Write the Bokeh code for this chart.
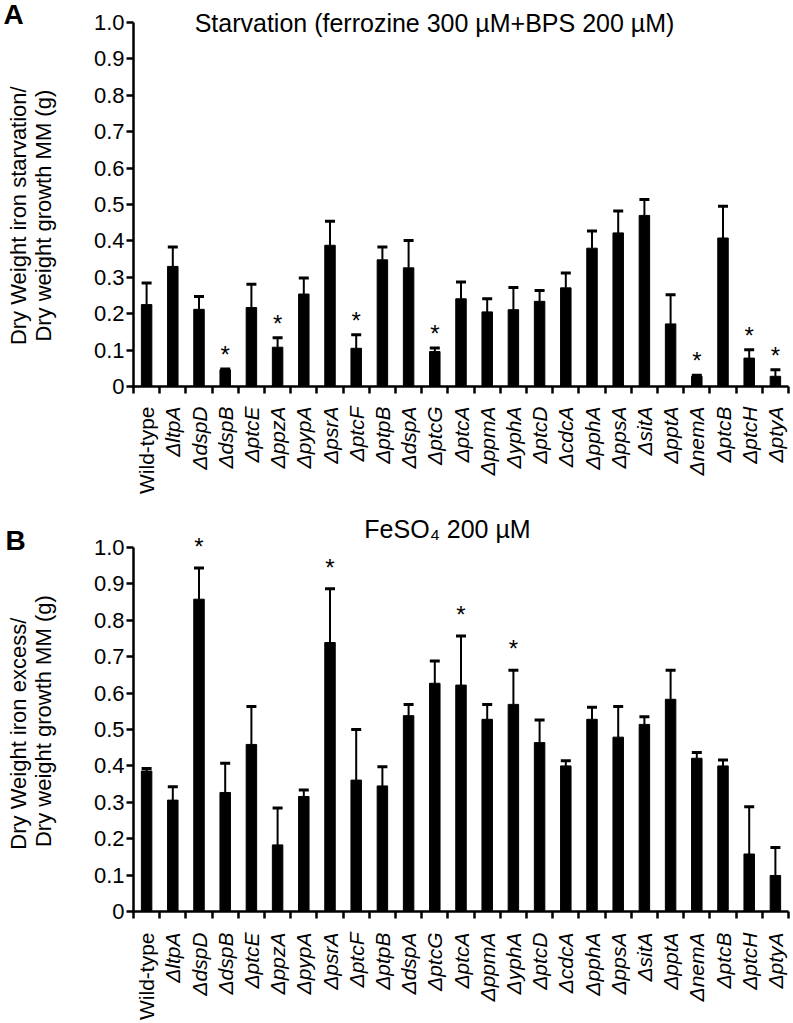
from math import pi
from bokeh.plotting import figure
from bokeh.layouts import column, row
from bokeh.core.properties import value
from bokeh.models import (Range1d, FixedTicker, Whisker, TeeHead, LabelSet, Label,
                          ColumnDataSource)
from bokeh.embed import file_html
from bokeh.resources import INLINE

# ---------------- data ----------------
strains = ["Wild-type", "ΔltpA", "ΔdspD", "ΔdspB", "ΔptcE", "ΔppzA", "ΔpypA", "ΔpsrA",
           "ΔptcF", "ΔptpB", "ΔdspA", "ΔptcG", "ΔptcA", "ΔppmA", "ΔyphA", "ΔptcD",
           "ΔcdcA", "ΔpphA", "ΔppsA", "ΔsitA", "ΔpptA", "ΔnemA", "ΔptcB", "ΔptcH", "ΔptyA"]

starv_mean = [0.225, 0.330, 0.212, 0.046, 0.217, 0.108, 0.254, 0.388, 0.105, 0.348,
              0.326, 0.096, 0.241, 0.205, 0.211, 0.234, 0.271, 0.380, 0.422, 0.470,
              0.172, 0.028, 0.408, 0.078, 0.028]
starv_sd = [0.059, 0.053, 0.035, 0.002, 0.064, 0.026, 0.044, 0.066, 0.037, 0.035,
            0.075, 0.010, 0.046, 0.036, 0.061, 0.030, 0.041, 0.047, 0.060, 0.044,
            0.080, 0.003, 0.087, 0.023, 0.018]
starv_sig = ["ΔdspB", "ΔppzA", "ΔptcF", "ΔptcG", "ΔnemA", "ΔptcH", "ΔptyA"]

excess_mean = [0.386, 0.306, 0.858, 0.327, 0.459, 0.183, 0.316, 0.739, 0.361, 0.345,
               0.538, 0.627, 0.622, 0.528, 0.569, 0.464, 0.400, 0.528, 0.479, 0.514,
               0.583, 0.421, 0.400, 0.158, 0.099]
excess_sd = [0.007, 0.037, 0.086, 0.080, 0.104, 0.101, 0.018, 0.148, 0.139, 0.053,
             0.031, 0.061, 0.135, 0.041, 0.094, 0.062, 0.014, 0.033, 0.084, 0.021,
             0.080, 0.016, 0.016, 0.130, 0.077]
excess_sig = ["ΔdspD", "ΔpsrA", "ΔptcA", "ΔyphA"]

y_ticks = [0, 0.1, 0.2, 0.3, 0.4, 0.5, 0.6, 0.7, 0.8, 0.9, 1.0]
y_tick_labels = ["0", "0.1", "0.2", "0.3", "0.4", "0.5", "0.6", "0.7", "0.8", "0.9", "1.0"]

title_a = "Starvation (ferrozine 300 µM+BPS 200 µM)"
title_b = "FeSO₄ 200 µM"
ylab_a = ["Dry Weight iron starvation/", "Dry weight growth MM (g)"]
ylab_b = ["Dry Weight iron excess/", "Dry weight growth MM (g)"]

# ---------------- layout constants (pixels) ----------------
FONT = "Liberation Sans"
PAGE_W = 793
LEFT_W = 62            # left strip with panel letter and y-axis title
FRAME_L, FRAME_R = 133, 788
FRAME_H = 364          # pixels for 0..1.0
N = len(strains)


def make_panel(mean, sd, sig, fig_h, pad_top, title, title_c, star_off):
    """Bar panel whose frame starts at the figure top (pad_top px above the 1.0 level)."""
    frame_h = pad_top + FRAME_H
    p = figure(width=PAGE_W - LEFT_W, height=fig_h,
               x_range=Range1d(0, N), y_range=Range1d(0, frame_h / FRAME_H),
               output_backend="svg", toolbar_location=None,
               min_border_left=FRAME_L - LEFT_W, min_border_right=PAGE_W - FRAME_R,
               min_border_top=0, min_border_bottom=fig_h - frame_h)
    p.outline_line_color = None
    p.xgrid.visible = False
    p.ygrid.visible = False

    xs = [i + 0.5 for i in range(N)]
    upper = [m + s for m, s in zip(mean, sd)]
    src = ColumnDataSource(dict(x=xs, mean=mean, upper=upper))
    p.vbar(x="x", top="mean", bottom=0, width=0.4, source=src,
           fill_color="black", line_color="black")
    p.add_layout(Whisker(base="x", lower="mean", upper="upper", source=src,
                         lower_head=None,
                         upper_head=TeeHead(size=10, line_width=3, line_color="black"),
                         line_width=2, line_color="black"))

    for ax in (p.xaxis[0], p.yaxis[0]):
        ax.axis_line_width = 2.5
        ax.axis_line_color = "black"
        ax.major_tick_line_width = 2.5
        ax.major_tick_line_color = "black"
        ax.major_tick_out = 7
        ax.major_tick_in = 0
        ax.minor_tick_line_color = None
    p.xaxis.ticker = FixedTicker(ticks=list(range(N + 1)))
    p.xaxis.major_label_text_color = None
    p.xaxis.major_label_text_font_size = "1px"
    p.xaxis.major_label_standoff = 0
    p.yaxis.bounds = (0, 1.0)
    p.yaxis.ticker = FixedTicker(ticks=y_ticks)
    p.yaxis.major_label_overrides = {t: l for t, l in zip(y_ticks, y_tick_labels)}
    p.yaxis.major_label_text_font = FONT
    p.yaxis.major_label_text_font_size = "22px"
    p.yaxis.major_label_text_color = "black"
    p.yaxis.major_label_standoff = 2

    # significance stars
    sx = [xs[strains.index(c)] for c in sig]
    sy = [upper[strains.index(c)] for c in sig]
    ssrc = ColumnDataSource(dict(x=sx, y=sy, t=["*"] * len(sx)))
    p.add_layout(LabelSet(x="x", y="y", text="t", source=ssrc, y_offset=star_off,
                          text_align="center", text_baseline="bottom",
                          text_font=value(FONT), text_font_size=value("24px"),
                          text_color=value("black")))

    # panel title (px position relative to the panel figure)
    tx = (title_c[0] - FRAME_L) / (FRAME_R - FRAME_L) * N
    ty = (frame_h - title_c[1]) / FRAME_H
    p.add_layout(Label(x=tx, y=ty, text=title, text_align="center",
                       text_baseline="middle", text_font=FONT, text_font_size="25px",
                       text_color="black"))
    return p


def make_left(fig_h, letter, letter_c, ylab, ylab_pos):
    """Strip left of the y axis: panel letter and two-line y-axis title (pixel coords)."""
    s = figure(width=LEFT_W, height=fig_h, x_range=Range1d(0, LEFT_W),
               y_range=Range1d(fig_h, 0), output_backend="svg", toolbar_location=None,
               x_axis_location=None, y_axis_location=None,
               min_border_left=0, min_border_right=0, min_border_top=0, min_border_bottom=0)
    s.outline_line_color = None
    s.xgrid.visible = False
    s.ygrid.visible = False
    s.add_layout(Label(x=letter_c[0], y=letter_c[1], text=letter, text_align="left",
                       text_baseline="middle", text_font=FONT, text_font_size="28px",
                       text_font_style="bold", text_color="black"))
    for txt, (cx, cy) in zip(ylab, ylab_pos):
        s.add_layout(Label(x=cx, y=cy, text=txt, angle=pi / 2, text_align="center",
                           text_baseline="middle", text_font=FONT, text_font_size="22px",
                           text_color="black"))
    return s


def make_names(fig_h, top_gap):
    """Strip below the x axis carrying the rotated strain names."""
    s = figure(width=PAGE_W, height=fig_h, x_range=Range1d(0, N), y_range=Range1d(0, fig_h),
               output_backend="svg", toolbar_location=None,
               x_axis_location=None, y_axis_location=None,
               min_border_left=FRAME_L, min_border_right=PAGE_W - FRAME_R,
               min_border_top=0, min_border_bottom=0)
    s.outline_line_color = None
    s.xgrid.visible = False
    s.ygrid.visible = False
    xs = [i + 0.5 for i in range(N)]
    yy = fig_h - top_gap
    wt = ColumnDataSource(dict(x=xs[:1], y=[yy], t=strains[:1]))
    mut = ColumnDataSource(dict(x=xs[1:], y=[yy] * (N - 1), t=strains[1:]))
    for src, style in ((wt, "normal"), (mut, "italic")):
        s.add_layout(LabelSet(x="x", y="y", text="t", source=src, angle=pi / 2,
                              text_align="right", text_baseline="middle",
                              text_font=value(FONT), text_font_size=value("21px"),
                              text_font_style=value(style), text_color=value("black")))
    return s


# Panel A: figure rows 0..400 (axis zero at 386), names 400..510
HA = 400
pa = make_panel(starv_mean, starv_sd, starv_sig, HA, 22, title_a, (434, 22), 1)
la = make_left(HA, "A", (3, 15), ylab_a, ((18, 223), (43, 223)))
na = make_names(110, 6)

# Panel B: figure rows 510..925 (1.0 at 547, zero at 911), names 925..1020
HB = 415
pb = make_panel(excess_mean, excess_sd, excess_sig, HB, 37, title_b, (447, 18), 8)
lb = make_left(HB, "B", (5, 31), ylab_b, ((18, 231), (43, 218)))
nb = make_names(95, 7)

layout = column(row(la, pa, spacing=0), na, row(lb, pb, spacing=0), nb, spacing=0)
open("out.html", "w").write(file_html(layout, INLINE))
